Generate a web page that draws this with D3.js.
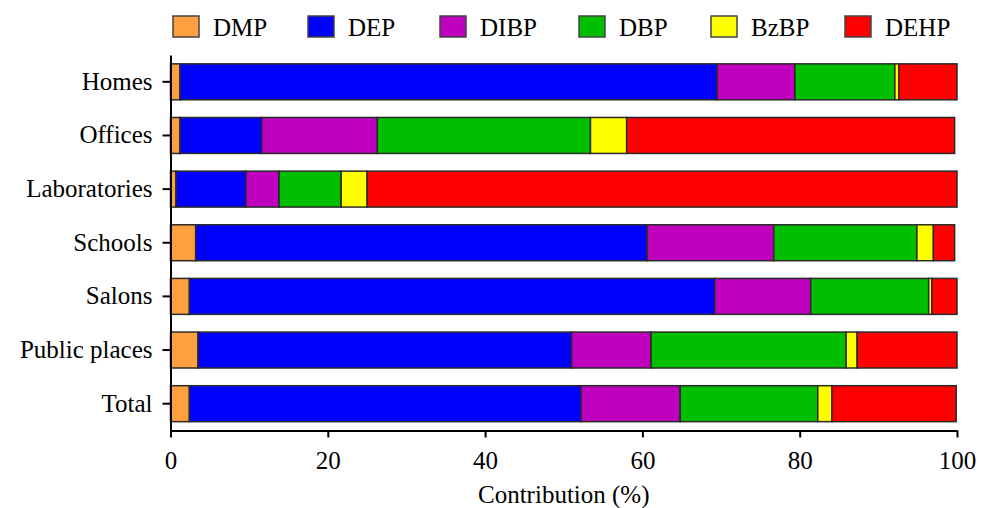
<!DOCTYPE html>
<html>
<head>
<meta charset="utf-8">
<script src="https://cdn.jsdelivr.net/npm/d3@7"></script>
<style>
  body { margin: 0; background: #fff; }
  svg text { font-family: "Liberation Serif", "Times New Roman", Tinos, "DejaVu Serif", serif !important; }
</style>
</head>
<body>
<div id="chart"></div>
<script>
// data (% contribution of each phthalate)
var categories = ["Homes", "Offices", "Laboratories", "Schools", "Salons", "Public places", "Total"];
var seriesNames = ["DMP", "DEP", "DIBP", "DBP", "BzBP", "DEHP"];
var DMP  = [1.2, 1.2, 0.7, 3.2, 2.4, 3.5, 2.4];
var DEP  = [68.3, 10.4, 8.9, 57.4, 66.8, 47.5, 49.8];
var DIBP = [9.9, 14.7, 4.2, 16.1, 12.2, 10.1, 12.6];
var DBP  = [12.7, 27.1, 7.9, 18.2, 15.0, 24.8, 17.5];
var BzBP = [0.5, 4.6, 3.3, 2.1, 0.4, 1.4, 1.8];
var DEHP = [7.4, 41.7, 75.0, 2.7, 3.2, 12.7, 15.8];
var xTicks = [0, 20, 40, 60, 80, 100];

var colors = ["#FFA040", "#0000FF", "#BF00BF", "#00BF00", "#FFFF00", "#FF0000"];
var seriesVals = [DMP, DEP, DIBP, DBP, BzBP, DEHP];

var width = 987, height = 508;

var rows = categories.map(function(c, i) {
    var r = { name: c };
    seriesNames.forEach(function(s, j) { r[s] = seriesVals[j][i]; });
    return r;
});

var svg = d3.select("#chart").append("svg")
    .attr("width", width)
    .attr("height", height);

var x = d3.scaleLinear().domain([0, 100]).range([170.5, 957]);
var y = d3.scaleBand().domain(categories).range([55, 430.5])
    .paddingInner(0.33).paddingOuter(0.165);
var color = d3.scaleOrdinal().domain(seriesNames).range(colors);

var stacked = d3.stack().keys(seriesNames)(rows);

svg.append("g").selectAll("g").data(stacked).enter()
    .append("g")
    .attr("fill", function(d) { return color(d.key); })
    .selectAll("rect").data(function(d) { return d; }).enter()
    .append("rect")
    .attr("x", function(d) { return x(d[0]); })
    .attr("y", function(d) { return y(d.data.name); })
    .attr("width", function(d) { return x(d[1]) - x(d[0]); })
    .attr("height", y.bandwidth())
    .attr("stroke", "#2a2a2a")
    .attr("stroke-width", 1.5);

// x axis
var xAxis = svg.append("g")
    .attr("transform", "translate(0,430.5)")
    .call(d3.axisBottom(x).tickValues(xTicks).tickSize(7).tickPadding(14).tickSizeOuter(0));
xAxis.select(".domain").attr("stroke", "#000").attr("stroke-width", 2);
xAxis.selectAll(".tick line").attr("stroke", "#000").attr("stroke-width", 2);
xAxis.selectAll("text").attr("font-size", "25px").attr("fill", "#000");

// y axis
var yAxis = svg.append("g")
    .attr("transform", "translate(170.5,0)")
    .call(d3.axisLeft(y).tickSize(8).tickPadding(10).tickSizeOuter(0));
yAxis.select(".domain").attr("stroke", "#000").attr("stroke-width", 2);
yAxis.selectAll(".tick line").attr("stroke", "#000").attr("stroke-width", 2);
yAxis.selectAll("text").attr("font-size", "25px").attr("fill", "#000");

svg.append("text")
    .attr("x", (x(0) + x(100)) / 2)
    .attr("y", 503)
    .attr("text-anchor", "middle")
    .attr("font-size", "25px")
    .text("Contribution (%)");

// legend
var legendX = [173, 308, 440, 579, 711, 845];
var legend = svg.append("g").selectAll("g").data(seriesNames).enter()
    .append("g")
    .attr("transform", function(d, i) { return "translate(" + legendX[i] + ",16)"; });
legend.append("rect")
    .attr("width", 26)
    .attr("height", 21)
    .attr("fill", function(d) { return color(d); })
    .attr("stroke", "#444")
    .attr("stroke-width", 1.5);
legend.append("text")
    .attr("x", 40)
    .attr("y", 20)
    .attr("font-size", "25px")
    .text(function(d) { return d; });
</script>
</body>
</html>
